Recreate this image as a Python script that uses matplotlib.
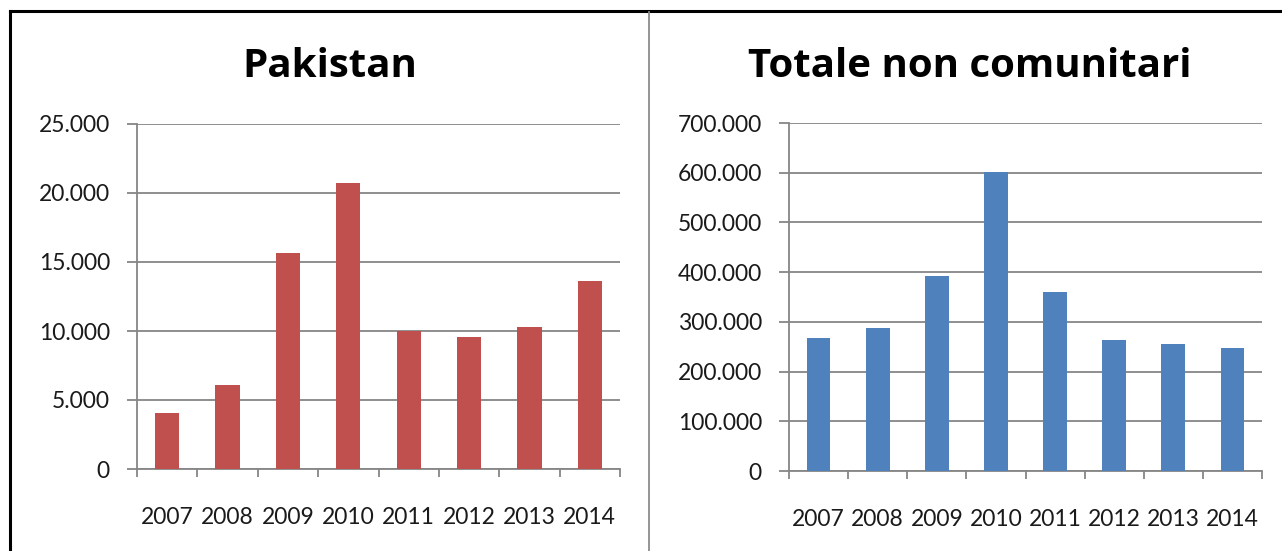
import matplotlib
matplotlib.use("Agg")
import matplotlib.pyplot as plt
from matplotlib.lines import Line2D
from matplotlib.ticker import FuncFormatter
import numpy as np

years = ["2007", "2008", "2009", "2010", "2011", "2012", "2013", "2014"]
pakistan = [4070, 6120, 15670, 20730, 10030, 9600, 10320, 13650]
totale = [266800, 287700, 393000, 602000, 360000, 263500, 255500, 247400]

titles = ["Pakistan", "Totale non comunitari"]
colors = ["#C0504D", "#4F81BD"]
ymax = [25000, 700000]
ystep = [5000, 100000]

plt.rcParams['font.family'] = ['Lato', 'DejaVu Sans']

fig = plt.figure(figsize=(12.82, 5.51), dpi=100)
fig.patch.set_facecolor("white")

W, H = 1282, 551
def ax_rect(x0, x1, ytop, ybot):
    return [x0 / W, 1 - ybot / H, (x1 - x0) / W, (ybot - ytop) / H]

rects = [ax_rect(137, 620, 124, 469), ax_rect(789, 1262, 123, 471)]
title_x = [330, 970]
grid_col = "#868686"

def fmt(v, pos):
    return "{:,.0f}".format(v).replace(",", ".")

for i, (vals, rect) in enumerate(zip([pakistan, totale], rects)):
    ax = fig.add_axes(rect)
    x = np.arange(len(years))
    ax.bar(x, vals, width=0.4, color=colors[i], zorder=3)
    ax.set_xlim(-0.5, len(years) - 0.5)
    ax.set_ylim(0, ymax[i])
    ax.set_yticks(np.arange(0, ymax[i] + 1, ystep[i]))
    ax.yaxis.set_major_formatter(FuncFormatter(fmt))
    ax.yaxis.grid(True, color=grid_col, linewidth=1.3, zorder=1)
    for s in ["top", "right"]:
        ax.spines[s].set_visible(False)
    for s in ["left", "bottom"]:
        ax.spines[s].set_color(grid_col)
        ax.spines[s].set_linewidth(1.3)
    ax.set_xticks(x)
    ax.set_xticklabels(years)
    ax.set_xticks(np.arange(-0.5, len(years), 1.0), minor=True)
    ax.tick_params(axis="x", which="major", length=0, pad=27, labelsize=16.5, labelcolor="#1a1a1a")
    ax.tick_params(axis="x", which="minor", length=6, width=1.3, color=grid_col, direction="out")
    ax.tick_params(axis="y", which="major", length=7.5, width=1.3, color=grid_col, pad=12,
                   labelsize=16.5, labelcolor="#1a1a1a")
    fig.text(title_x[i] / W, 1 - 77 / H, titles[i], ha="center", va="baseline",
             fontsize=29, fontweight="bold", color="black", family=["Open Sans", "DejaVu Sans"])

# outer border (top and left) and divider
fig.add_artist(Line2D([10 / W, 10 / W], [0, 1 - 11 / H], transform=fig.transFigure,
                      color="black", linewidth=2.2))
fig.add_artist(Line2D([10 / W, 1], [1 - 11 / H, 1 - 11 / H], transform=fig.transFigure,
                      color="black", linewidth=2.2))
fig.add_artist(Line2D([649 / W, 649 / W], [0, 1 - 12 / H], transform=fig.transFigure,
                      color="#8c8c8c", linewidth=1.3))

fig.savefig("out.png", dpi=100, facecolor="white")
